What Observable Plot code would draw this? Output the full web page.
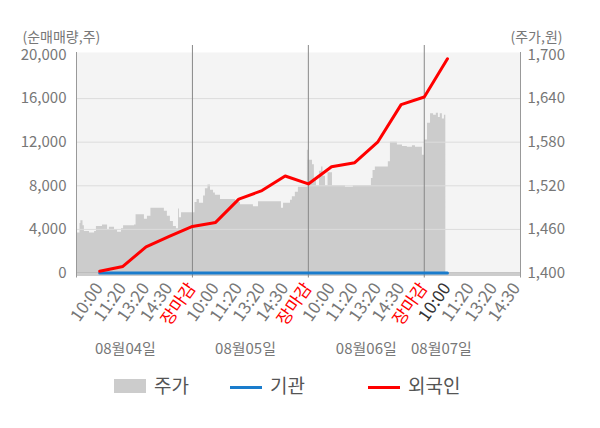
<!DOCTYPE html>
<html>
<head>
<meta charset="utf-8">
<script src="https://cdn.jsdelivr.net/npm/d3@7"></script>
<script src="https://cdn.jsdelivr.net/npm/@observablehq/plot@0.6"></script>
<style>
  html, body { margin: 0; padding: 0; background: #fff; }
  body { width: 600px; height: 428px; font-family: "Noto Sans CJK KR", "Noto Sans", sans-serif; }
  #legend { position: relative; width: 600px; height: 40px; color: #555; font-size: 19px; }
  #legend .sw { position: absolute; }
  #legend .lb { position: absolute; top: 7px; line-height: 24px; }
</style>
</head>
<body>
<div id="chart"></div>
<div id="legend"></div>
<script>
// ---- data ----
const tickSlots = [1,2,3,4,5,6,7,8,9,10,11,12,13,14,15,16,17,18,19];
const tickLabels = ["10:00","11:20","13:20","14:30","장마감","10:00","11:20","13:20","14:30","장마감","10:00","11:20","13:20","14:30","장마감","10:00","11:20","13:20","14:30"];
const daySplitSlots = [5, 10, 15];
const dateLabels = ["08월04일","08월05일","08월06일","08월07일"];
const dateSlots = [2.11, 7.29, 12.5, 15.74];

const flowSlots = [1,2,3,4,5,6,7,8,9,10,11,12,13,14,15,16];
const foreignNet = [160,600,2400,3350,4270,4640,6780,7560,8900,8170,9750,10120,12040,15450,16150,19650];
const institutionNet = [0,0,0,0,0,0,0,0,0,0,0,0,0,0,0,0];

const priceSlot = [0,0.15,0.19,0.28,0.34,0.56,0.78,0.86,1.12,1.34,1.42,1.64,1.77,1.94,2.03,2.5,2.57,2.93,3.06,3.21,3.79,3.92,4.05,4.18,4.31,4.40,4.44,4.53,
  5.11,5.20,5.30,5.48,5.56,5.67,5.78,5.91,5.99,6.21,6.86,7.07,7.63,7.85,8.84,8.93,9.23,9.31,9.44,9.57,
  9.96,10.0,10.18,10.26,10.35,10.48,10.57,10.63,10.74,10.85,11.04,11.6,11.94,12.72,12.79,12.89,13.45,13.54,13.84,14.06,14.27,14.49,14.62,
  14.92,15.01,15.14,15.27,15.40,15.52,15.61,15.69,15.78,15.87,15.93];
const priceWon = [1455,1468,1472,1465,1457,1455,1457,1464,1466,1460,1463,1460,1456,1461,1465,1466,1480,1474,1478,1489,1485,1478,1471,1464,1461,1488,1476,1483,
  1497,1501,1496,1506,1516,1521,1514,1510,1507,1501,1497,1494,1491,1498,1489,1496,1500,1505,1511,1518,
  1569,1555,1549,1528,1520,1540,1546,1533,1520,1538,1520,1518,1520,1530,1541,1546,1553,1580,1576,1574,1573,1575,1573,
  1562,1583,1606,1619,1617,1620,1614,1619,1612,1617,1617];

const leftTicks = [0, 4000, 8000, 12000, 16000, 20000];
const rightTicks = [1400, 1460, 1520, 1580, 1640, 1700];

// ---- scales helpers ----
const volMax = 20000, pMin = 1400, pMax = 1700;
const priceToLeft = p => (p - pMin) / (pMax - pMin) * volMax;
const leftToPrice = v => pMin + v / volMax * (pMax - pMin);
const fmt = d3.format(",");

const priceData = priceSlot.map((k, i) => ({k, v: priceToLeft(priceWon[i])}));
const foreignData = flowSlots.map((k, i) => ({k, v: foreignNet[i]}));
const instData = flowSlots.map((k, i) => ({k, v: institutionNet[i]}));
const ticks = tickSlots.map((k, i) => ({k, label: tickLabels[i], kind: tickLabels[i] === "장마감" ? "close" : (k === 16 ? "now" : "time")}));
const dates = dateSlots.map((k, i) => ({k, label: dateLabels[i]}));

const xMax = 19.15;
const axisGray = "#999";
const tickText = {x: "k", text: "label", frameAnchor: "bottom", rotate: -55, textAnchor: "end", dx: 4, dy: 15, fontSize: 17};

const chart = Plot.plot({
  width: 600,
  height: 366,
  marginLeft: 76,
  marginRight: 80,
  marginTop: 54.5,
  marginBottom: 93.5,
  style: {fontFamily: "'Noto Sans CJK KR', 'Noto Sans', sans-serif", fontSize: "15px", background: "white", overflow: "visible"},
  x: {domain: [0, xMax], axis: null},
  y: {domain: [0, volMax], axis: null},
  marks: [
    Plot.frame({fill: "#f4f4f4", stroke: null, insetTop: -2.5}),
    Plot.areaY(priceData, {x: "k", y: "v", curve: "step-after", fill: "#cccccc"}),
    Plot.ruleY(leftTicks.filter(d => d > 0 && d < volMax), {stroke: "#dcdcdc", strokeWidth: 1}),
    Plot.ruleY([0], {stroke: axisGray}),
    Plot.ruleY([0], {stroke: axisGray, dy: 2}),
    Plot.ruleX(daySplitSlots, {stroke: "#888", insetTop: -9.5, insetBottom: -5}),
    Plot.ruleX([0, xMax], {stroke: axisGray, insetTop: -2.5, insetBottom: -5}),
    Plot.lineY(instData, {x: "k", y: "v", stroke: "#1a7ccc", strokeWidth: 3}),
    Plot.lineY(foreignData, {x: "k", y: "v", stroke: "#ff0000", strokeWidth: 3}),
    Plot.axisY(leftTicks, {anchor: "left", label: null, tickSize: 0, tickPadding: 10, tickFormat: fmt, color: "#777", fontSize: 15}),
    Plot.axisY(rightTicks.map(priceToLeft), {anchor: "right", label: null, tickSize: 0, tickPadding: 7, tickFormat: d => fmt(Math.round(leftToPrice(d))), color: "#777", fontSize: 15}),
    Plot.text(ticks.filter(d => d.kind === "time"), {...tickText, fill: "#777"}),
    Plot.text(ticks.filter(d => d.kind === "close"), {...tickText, fill: "#ff0000"}),
    Plot.text(ticks.filter(d => d.kind === "now"), {...tickText, fill: "#333"}),
    Plot.text(dates, {x: "k", text: "label", frameAnchor: "bottom", dy: 81, fill: "#777", fontSize: 15}),
    Plot.text(["(순매매량,주)"], {frameAnchor: "top-left", textAnchor: "start", dx: -54, dy: -23, fill: "#777", fontSize: 14}),
    Plot.text(["(주가,원)"], {frameAnchor: "top-right", textAnchor: "end", dx: 42, dy: -23, fill: "#777", fontSize: 14})
  ]
});
document.getElementById("chart").appendChild(chart);

// ---- legend ----
const legendItems = [
  {label: "주가", type: "rect", color: "#cccccc"},
  {label: "기관", type: "line", color: "#1a7ccc"},
  {label: "외국인", type: "line", color: "#ff0000"}
];
const legendX = [114, 230, 368];
const legend = document.getElementById("legend");
legendItems.forEach((it, i) => {
  const sw = document.createElement("div");
  sw.className = "sw";
  sw.style.left = legendX[i] + "px";
  sw.style.width = "32px";
  sw.style.background = it.color;
  if (it.type === "rect") { sw.style.top = "13px"; sw.style.height = "14px"; }
  else { sw.style.top = "20px"; sw.style.height = "3px"; }
  legend.appendChild(sw);
  const lb = document.createElement("div");
  lb.className = "lb";
  lb.style.left = (legendX[i] + 40) + "px";
  lb.textContent = it.label;
  legend.appendChild(lb);
});
</script>
</body>
</html>
